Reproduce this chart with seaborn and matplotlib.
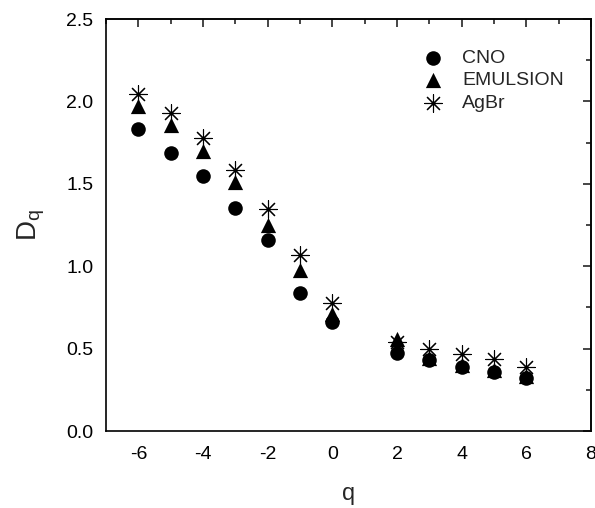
import numpy as np
import pandas as pd
import matplotlib
matplotlib.use("Agg")
import matplotlib.pyplot as plt
import seaborn as sns
from matplotlib.ticker import MultipleLocator, FormatStrFormatter

q = [-6, -5, -4, -3, -2, -1, 0, 2, 3, 4, 5, 6]
cno = [1.83, 1.685, 1.545, 1.355, 1.16, 0.84, 0.66, 0.475, 0.43, 0.39, 0.36, 0.32]
emulsion = [1.975, 1.855, 1.70, 1.51, 1.25, 0.975, 0.71, 0.56, 0.445, 0.40, 0.37, 0.335]
agbr = [2.045, 1.93, 1.78, 1.585, 1.35, 1.065, 0.775, 0.54, 0.50, 0.47, 0.435, 0.39]

sns.set_style("white")
plt.rcParams['font.family'] = ['Liberation Sans', 'DejaVu Sans']
plt.rcParams['axes.unicode_minus'] = False

fig = plt.figure(figsize=(5.95, 5.08), dpi=100)
ax = fig.add_axes([106/595, 1-431/508, (591-106)/595, (431-19)/508])

sns.scatterplot(x=q, y=cno, ax=ax, marker="o", color="black", s=110, edgecolor="black", linewidth=0, label="CNO", zorder=3)
sns.scatterplot(x=q, y=emulsion, ax=ax, marker="^", color="black", s=120, edgecolor="black", linewidth=0, label="EMULSION", zorder=4)
sns.scatterplot(x=q, y=agbr, ax=ax, marker=(8, 2, 0), color="black", s=160, linewidth=0.8, label="AgBr", zorder=5)

ax.set_xlim(-7, 8)
ax.set_ylim(0, 2.5)
ax.xaxis.set_major_locator(MultipleLocator(2))
ax.xaxis.set_minor_locator(MultipleLocator(1))
ax.yaxis.set_major_locator(MultipleLocator(0.5))
ax.yaxis.set_minor_locator(MultipleLocator(0.25))
ax.yaxis.set_major_formatter(FormatStrFormatter('%.1f'))

for s in ax.spines.values():
    s.set_visible(True)
    s.set_color("black")
    s.set_linewidth(1.2)

ax.tick_params(axis='both', which='major', direction='out', length=6, width=1.2, labelsize=14, colors='black')
ax.tick_params(axis='both', which='minor', direction='out', length=3.5, width=1.2)
ax.tick_params(axis='x', which='major', pad=5)
ax.tick_params(axis='y', which='major', pad=3)
# top/right mirrored ticks pointing inward
top = ax.secondary_xaxis('top')
top.xaxis.set_major_locator(MultipleLocator(2))
top.xaxis.set_minor_locator(MultipleLocator(1))
top.tick_params(which='major', direction='in', length=6, width=1.2, labeltop=False)
top.tick_params(which='minor', direction='in', length=3.5, width=1.2)
right = ax.secondary_yaxis('right')
right.yaxis.set_major_locator(MultipleLocator(0.5))
right.yaxis.set_minor_locator(MultipleLocator(0.25))
right.tick_params(which='major', direction='in', length=6, width=1.2, labelright=False)
right.tick_params(which='minor', direction='in', length=3.5, width=1.2)
for s in list(top.spines.values()) + list(right.spines.values()):
    s.set_linewidth(1.2)

ax.set_xlabel("q", fontsize=17, labelpad=14)
ax.set_ylabel(r"D$_\mathregular{q}$", fontsize=20, labelpad=14)

leg = ax.legend(loc="upper left", bbox_to_anchor=(0.654, 0.927), frameon=False,
                fontsize=14, labelspacing=0.26, handletextpad=1.0, borderaxespad=0,
                borderpad=0, handlelength=1.0)

fig.savefig("out.png", dpi=100)
